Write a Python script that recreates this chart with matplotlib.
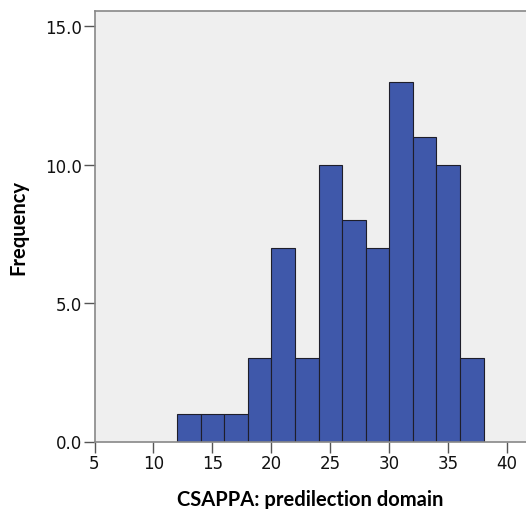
import matplotlib
matplotlib.use("Agg")
import matplotlib.pyplot as plt

bin_edges = [12, 14, 16, 18, 20, 22, 24, 26, 28, 30, 32, 34, 36, 38]
counts = [1, 1, 1, 3, 7, 3, 10, 8, 7, 13, 11, 10, 3]
x_ticks = [5, 10, 15, 20, 25, 30, 35, 40]
y_ticks = [0.0, 5.0, 10.0, 15.0]
y_tick_labels = ["0.0", "5.0", "10.0", "15.0"]

fig = plt.figure(figsize=(5.26, 5.10), dpi=100)
ax = fig.add_axes([94.5 / 526, (510 - 442.5) / 510, 1 - 94.5 / 526, (442.5 - 12) / 510])
ax.set_facecolor("#EFEFEF")

lefts = bin_edges[:-1]
widths = [b - a for a, b in zip(bin_edges[:-1], bin_edges[1:])]
ax.bar(lefts, counts, width=widths, align="edge", color="#3F58AA",
       edgecolor="#1E1E2A", linewidth=0.8, zorder=2)

ax.set_xlim(5, 41.6)
ax.set_ylim(0, 15.55)
ax.set_xticks(x_ticks)
ax.set_xticklabels([str(t) for t in x_ticks])
ax.set_yticks(y_ticks)
ax.set_yticklabels(y_tick_labels)

for s in ["left", "top", "bottom"]:
    ax.spines[s].set_color("#888888")
    ax.spines[s].set_linewidth(1.2)
ax.spines["right"].set_visible(False)

ax.tick_params(axis="both", length=8, width=1.0, color="#555555",
               labelsize=12, pad=1, labelcolor="#111111")

ax.set_xlabel("CSAPPA: predilection domain", fontsize=14.5, fontweight="bold",
              family=["Lato", "DejaVu Sans"], labelpad=12)
ax.set_ylabel("Frequency", fontsize=14.5, fontweight="bold",
              family=["Lato", "DejaVu Sans"], labelpad=12)

fig.savefig("out.png", dpi=100)
